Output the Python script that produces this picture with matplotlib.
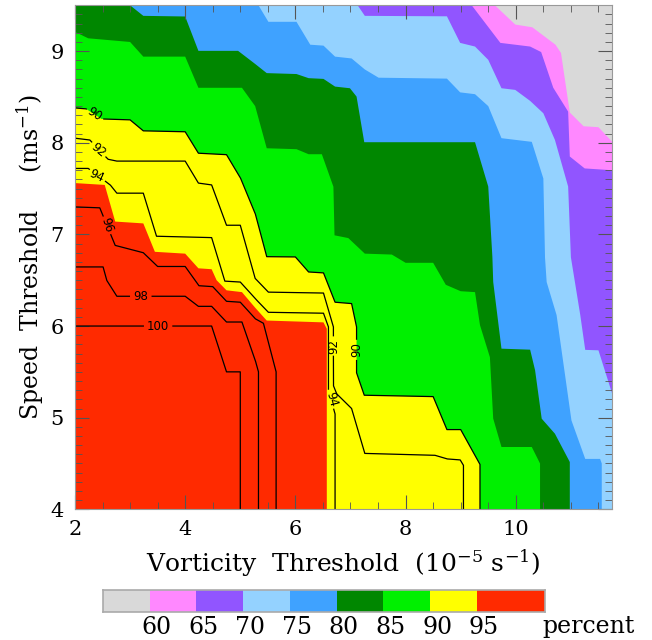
"""Filled contour of hit percentage vs vorticity and speed thresholds"""

import numpy as np
import matplotlib
matplotlib.use('Agg')
import matplotlib.pyplot as plt

plt.rcParams['font.family'] = ['DejaVu Serif']
plt.rcParams['mathtext.fontset'] = 'dejavuserif'

# ############################################################################ #
# Data: each contour level given as (vorticity, speed) along its boundary #

v60 = [9.62, 9.99, 10.30, 10.72, 10.82, 10.98, 11.23, 11.50, 11.75]
s60 = [9.50, 9.29, 9.26, 9.07, 8.98, 8.33, 8.18, 8.17, 8.01]

v65 = [9.20, 9.72, 10.26, 10.46, 10.68, 10.95, 10.98, 11.25, 11.75]
s65 = [9.50, 9.09, 9.05, 8.99, 8.60, 8.34, 7.85, 7.72, 7.70]

v70 = [7.13, 7.26, 8.75, 8.99, 9.26, 9.50, 9.74, 9.99, 10.26, 10.50, 10.71,
       10.95, 11.00, 11.17, 11.26, 11.50, 11.75]
s70 = [9.50, 9.385, 9.38, 9.09, 9.05, 8.905, 8.595, 8.577, 8.457, 8.322, 8.031,
       7.522, 6.75, 6.12, 5.74, 5.735, 5.26]

v75 = [5.33, 5.51, 6.02, 6.27, 6.51, 6.72, 7.02, 7.26, 7.51, 8.75, 8.99, 9.26,
       9.50, 9.74, 10.29, 10.50, 10.53, 10.56, 10.74, 11.01, 11.26, 11.53,
       11.56, 11.56]
s75 = [9.50, 9.32, 9.32, 9.07, 9.06, 8.94, 8.92, 8.80, 8.71, 8.70, 8.55, 8.53,
       8.40, 8.05, 8.01, 7.61, 6.75, 6.48, 6.12, 4.97, 4.55, 4.55, 4.50, 4.0]

v80 = [3.0, 3.24, 4.0, 4.24, 4.96, 5.27, 5.48, 6.02, 6.24, 6.51, 6.72, 6.99,
       7.11, 7.25, 9.26, 9.50, 9.575, 9.59, 9.74, 10.26, 10.35, 10.47, 10.71,
       10.98, 10.98]
s80 = [9.50, 9.385, 9.378, 9.003, 9.003, 8.86, 8.76, 8.75, 8.705, 8.697, 8.613,
       8.595, 8.504, 8.006, 8.006, 7.522, 6.754, 6.481, 5.753, 5.742, 5.517,
       4.989, 4.825, 4.516, 4.0]

v85 = [2.0, 2.24, 3.0, 3.24, 4.0, 4.24, 5.03, 5.27, 5.48, 6.02, 6.24, 6.48,
       6.69, 6.71, 6.96, 7.26, 7.75, 8.0, 8.5, 8.73, 9.0, 9.26, 9.35, 9.53,
       9.59, 9.74, 10.29, 10.44, 10.44]
s85 = [9.21, 9.14, 9.10, 8.94, 8.94, 8.60, 8.60, 8.40, 7.94, 7.93, 7.875,
       7.875, 7.52, 6.99, 6.96, 6.79, 6.78, 6.69, 6.69, 6.45, 6.38, 6.37, 6.01,
       5.66, 4.99, 4.68, 4.68, 4.50, 4.0]

v90 = [2.0, 2.2, 2.48, 3.0, 3.24, 4.0, 4.24, 4.75, 5.0, 5.27, 5.48, 6.0, 6.24,
       6.51, 6.72, 7.02, 7.11, 7.11, 7.25, 8.5, 8.75, 9.0, 9.35, 9.35]
s90 = [8.38, 8.37, 8.26, 8.25, 8.13, 8.12, 7.886, 7.87, 7.62, 7.23, 6.757,
       6.754, 6.59, 6.58, 6.26, 6.245, 5.99, 5.49, 5.245, 5.23, 4.87, 4.87,
       4.49, 4.0]

v92 = [2.0, 2.27, 2.6, 2.76, 4.0, 4.24, 4.48, 4.75, 5.0, 5.27, 5.51, 6.51,
       6.69, 6.69, 6.75, 7.02, 7.26, 8.53, 8.75, 8.99, 9.05, 9.05]
s92 = [8.05, 8.03, 7.82, 7.80, 7.80, 7.56, 7.54, 7.10, 7.10, 6.52, 6.37, 6.36,
       5.99, 5.35, 5.26, 5.10, 4.61, 4.59, 4.55, 4.54, 4.48, 4.0]

v94 = [2.0, 2.24, 2.64, 2.76, 3.24, 3.48, 4.48, 4.72, 5.0, 5.27, 5.51, 6.51,
       6.6, 6.6, 6.72, 6.72]
s94 = [7.72, 7.72, 7.54, 7.45, 7.45, 6.98, 6.965, 6.49, 6.48, 6.30, 6.15,
       6.14, 5.99, 5.30, 5.04, 4.0]

v95 = [2.0, 2.54, 2.73, 3.24, 3.45, 4.0, 4.24, 4.48, 4.57, 4.75, 5.03, 5.27,
       5.48, 6.51, 6.57, 6.57]
s95 = [7.56, 7.54, 7.14, 7.12, 6.81, 6.79, 6.63, 6.62, 6.5, 6.39, 6.37, 6.2,
       6.06, 6.04, 5.97, 4.0]

v96 = [2.0, 2.45, 2.73, 3.24, 3.5, 4.0, 4.25, 4.5, 4.75, 5.0, 5.27, 5.42,
       5.65, 5.65]
s96 = [7.30, 7.29, 6.88, 6.80, 6.65, 6.65, 6.44, 6.43, 6.27, 6.26, 6.08, 6.03,
       5.5, 4.0]

v98 = [2.0, 2.51, 2.575, 2.76, 4.0, 4.24, 4.48, 4.75, 5.03, 5.27, 5.33, 5.33]
s98 = [6.645, 6.645, 6.50, 6.325, 6.325, 6.215, 6.215, 6.044, 6.044, 5.63,
       5.5, 4.0]

v100 = [2.0, 4.48, 4.75, 5.0, 5.0]
s100 = [6.0, 6.0, 5.5, 5.5, 4.0]

fill_levels = [60, 65, 70, 75, 80, 85, 90, 95]
line_levels = [90, 92, 94, 96, 98, 100]
cb_labels = ['60', '65', '70', '75', '80', '85', '90', '95']

lColor = ['#d9d9d9', '#ff88ff', '#9155ff', '#94d2ff', '#3fa2ff', '#008700',
          '#00f000', '#ffff00', '#ff2a00']

# ############################################################################ #

XMIN, XMAX, YMIN, YMAX = 2.0, 11.75, 4.0, 9.5

dFill = {60: (v60, s60), 65: (v65, s65), 70: (v70, s70), 75: (v75, s75),
         80: (v80, s80), 85: (v85, s85), 90: (v90, s90), 95: (v95, s95)}
dLine = {90: (v90, s90), 92: (v92, s92), 94: (v94, s94), 96: (v96, s96),
         98: (v98, s98), 100: (v100, s100)}

# label placement: (vorticity, speed, rotation, gap radius px)
dLab = {
	90: [(2.36, 8.31, -33, 10), (7.11, 5.74, 90, 10)],
	92: [(2.42, 7.92, -40, 10), (6.69, 5.78, 90, 10)],
	94: [(2.40, 7.64, -25, 10), (6.66, 5.20, -75, 10)],
	96: [(2.58, 7.10, -72, 10)],
	98: [(3.20, 6.325, 0, 11)],
	100: [(3.50, 6.0, 0, 14)],
}


def _region(lX, lY):
	"""Close a boundary into the polygon below-left of it"""
	aX = list(lX)
	aY = list(lY)
	if aY[-1] > YMIN + 1e-6:
		aX.append(XMAX); aY.append(YMIN)
	aX.append(XMIN); aY.append(YMIN)
	if aX[0] > XMIN + 1e-6:
		aX.append(XMIN); aY.append(YMAX)
	return aX, aY


def _gapped(ax, lX, lY, lCut):
	"""Break a contour line around its label positions"""
	trans = ax.transData
	aPix = trans.transform(np.column_stack([lX, lY]))
	lSeg = []
	for i in range(len(aPix) - 1):
		t = np.linspace(0, 1, 60, endpoint=(i == len(aPix) - 2))
		lSeg.append(aPix[i] + np.outer(t, aPix[i+1] - aPix[i]))
	aD = np.vstack(lSeg)
	bKeep = np.ones(len(aD), bool)
	for (cx, cy, rot, r) in lCut:
		c = trans.transform((cx, cy))
		bKeep &= np.hypot(aD[:, 0] - c[0], aD[:, 1] - c[1]) > r
	aOut = trans.inverted().transform(aD)
	aOut[~bKeep] = np.nan
	return aOut[:, 0], aOut[:, 1]


fig = plt.figure(figsize=(6.52, 6.40), dpi=100)
ax = fig.add_axes([0.115, 0.2042, 0.824, 0.7875])
ax.set_xlim(XMIN, XMAX)
ax.set_ylim(YMIN, YMAX)

ax.fill([XMIN, XMAX, XMAX, XMIN], [YMIN, YMIN, YMAX, YMAX], color=lColor[0], lw=0)
for i, lev in enumerate(fill_levels):
	aX, aY = _region(*dFill[lev])
	ax.fill(aX, aY, color=lColor[i+1], lw=0)

for lev in line_levels:
	lX, lY = dLine[lev]
	aX, aY = _gapped(ax, lX, lY, dLab[lev])
	ax.plot(aX, aY, '-', color='black', lw=0.9)
	for (cx, cy, rot, r) in dLab[lev]:
		ax.text(cx, cy, '%d' % lev, fontsize=8.5, ha='center', va='center',
			rotation=rot, rotation_mode='anchor', family='DejaVu Sans')

ax.set_xticks([2, 4, 6, 8, 10])
ax.set_xticks(np.arange(2.5, 11.8, 0.5), minor=True)
ax.set_yticks([4, 5, 6, 7, 8, 9])
ax.set_yticks(np.arange(4.1, 9.5, 0.1), minor=True)
ax.tick_params(which='both', direction='in', top=True, right=True,
	color='#555555', labelsize=15)
ax.tick_params(which='major', length=10, width=0.8, pad=8)
ax.tick_params(which='minor', length=5, width=0.6)
for sp in ax.spines.values():
	sp.set_color('#999999')

ax.set_xlabel('Vorticity  Threshold  (10$^{-5}$ s$^{-1}$)', fontsize=18,
	labelpad=6)
ax.set_ylabel('Speed  Threshold     (ms$^{-1}$)', fontsize=17, labelpad=3)

# colour bar along the bottom
axCb = fig.add_axes([0.158, 0.0437, 0.678, 0.034])
aW = [1, 1, 1, 1, 1, 1, 1, 1, 1.46]
aL = np.concatenate([[0], np.cumsum(aW)[:-1]])
axCb.bar(aL, 1, width=aW, align='edge', color=lColor, lw=0)
axCb.set_xlim(0, sum(aW))
axCb.set_ylim(0, 1)
axCb.set_yticks([])
axCb.set_xticks(aL[1:] + 0.15)
axCb.set_xticklabels(cb_labels)
axCb.tick_params(length=0, labelsize=17, pad=3)
for sp in axCb.spines.values():
	sp.set_color('#aaaaaa')
	sp.set_linewidth(1.2)
axCb.text(0.995, -0.68, 'percent', transform=axCb.transAxes, fontsize=17,
	ha='left', va='center')

fig.savefig('out.png', dpi=100)
